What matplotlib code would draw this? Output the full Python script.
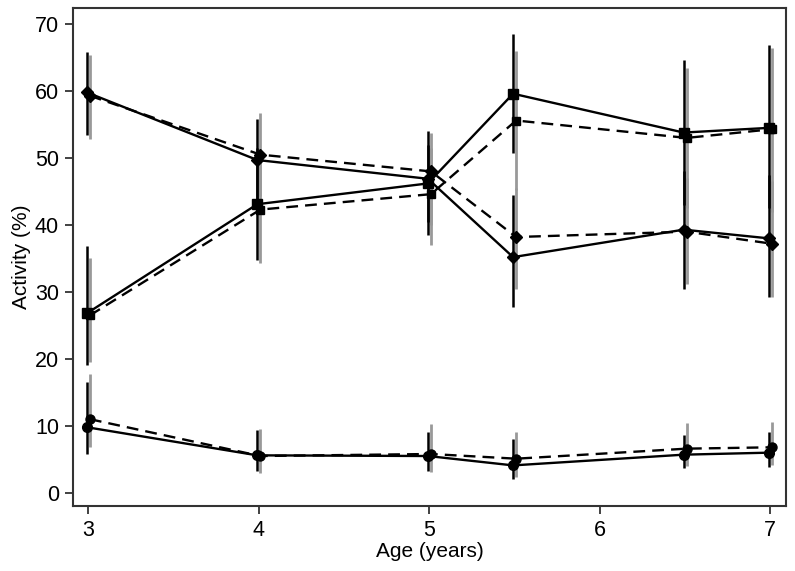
import matplotlib
matplotlib.use("Agg")
import matplotlib.pyplot as plt
import numpy as np

plt.rcParams['font.family'] = ['Liberation Sans', 'DejaVu Sans']

ages = [3, 4, 5, 5.5, 6.5, 7]

# Solid-line series (black error bars)
diam_solid = [59.8, 49.7, 46.9, 35.2, 39.3, 38.0]
diam_solid_lo = [53.4, 43.5, 40.5, 27.8, 30.5, 29.2]
diam_solid_hi = [65.9, 55.8, 54.1, 44.5, 48.0, 47.5]

sq_solid = [26.8, 43.1, 46.2, 59.6, 53.8, 54.5]
sq_solid_lo = [19.1, 34.8, 38.5, 50.8, 43.0, 42.5]
sq_solid_hi = [36.8, 51.5, 52.0, 68.5, 64.7, 66.8]

circ_solid = [9.8, 5.6, 5.5, 4.1, 5.7, 6.0]
circ_solid_lo = [5.8, 3.2, 3.3, 2.1, 3.7, 3.9]
circ_solid_hi = [16.6, 9.4, 9.1, 8.0, 8.6, 9.1]

# Dashed-line series (grey error bars)
diam_dash = [59.3, 50.5, 48.0, 38.2, 39.0, 37.2]
diam_dash_lo = [52.8, 44.3, 40.0, 30.5, 31.2, 29.2]
diam_dash_hi = [65.4, 56.7, 53.7, 45.5, 47.0, 46.5]

sq_dash = [26.5, 42.3, 44.6, 55.6, 53.0, 54.3]
sq_dash_lo = [19.5, 34.3, 37.0, 45.2, 42.5, 42.0]
sq_dash_hi = [35.0, 50.0, 51.5, 66.0, 63.5, 66.5]

circ_dash = [11.0, 5.5, 5.8, 5.1, 6.6, 6.8]
circ_dash_lo = [6.9, 3.0, 3.1, 2.4, 4.0, 4.2]
circ_dash_hi = [17.8, 9.5, 10.3, 9.1, 10.4, 10.6]

x_ticks = [3, 4, 5, 6, 7]
y_ticks = [0, 10, 20, 30, 40, 50, 60, 70]

fig = plt.figure(figsize=(7.95, 5.71), dpi=100)
ax = fig.add_axes([0.0918, 0.114, 0.897, 0.872])

xa = np.array(ages)
xs = xa - 0.007
xd = xa + 0.011

solid = [(diam_solid, diam_solid_lo, diam_solid_hi, 'D', 6.5),
         (sq_solid, sq_solid_lo, sq_solid_hi, 's', 6.5),
         (circ_solid, circ_solid_lo, circ_solid_hi, 'o', 7)]
dashed = [(diam_dash, diam_dash_lo, diam_dash_hi, 'D', 6),
          (sq_dash, sq_dash_lo, sq_dash_hi, 's', 6),
          (circ_dash, circ_dash_lo, circ_dash_hi, 'o', 6.5)]

for y, lo, hi, m, ms in dashed:
    ax.vlines(xd, lo, hi, color='#999999', lw=2.0, zorder=2)
for y, lo, hi, m, ms in solid:
    ax.vlines(xs, lo, hi, color='black', lw=1.8, zorder=3)
for y, lo, hi, m, ms in dashed:
    ax.plot(xd, y, color='black', lw=1.7, ls=(0, (5, 3)), marker=m, ms=ms,
            mfc='black', mec='black', zorder=4)
for y, lo, hi, m, ms in solid:
    ax.plot(xs, y, color='black', lw=1.7, ls='-', marker=m, ms=ms,
            mfc='black', mec='black', zorder=5)

ax.set_xlim(2.912, 7.094)
ax.set_ylim(-1.95, 72.4)
ax.set_xticks(x_ticks)
ax.set_yticks(y_ticks)
ax.tick_params(axis='both', direction='out', length=6, width=1.3,
               color='#333333', labelsize=15.5, pad=4)
for s in ax.spines.values():
    s.set_color('#333333')
    s.set_linewidth(1.5)

ax.set_xlabel('Age (years)', fontsize=15, labelpad=1)
ax.set_ylabel('Activity (%)', fontsize=15, labelpad=3)

fig.savefig('out.png', dpi=100)
